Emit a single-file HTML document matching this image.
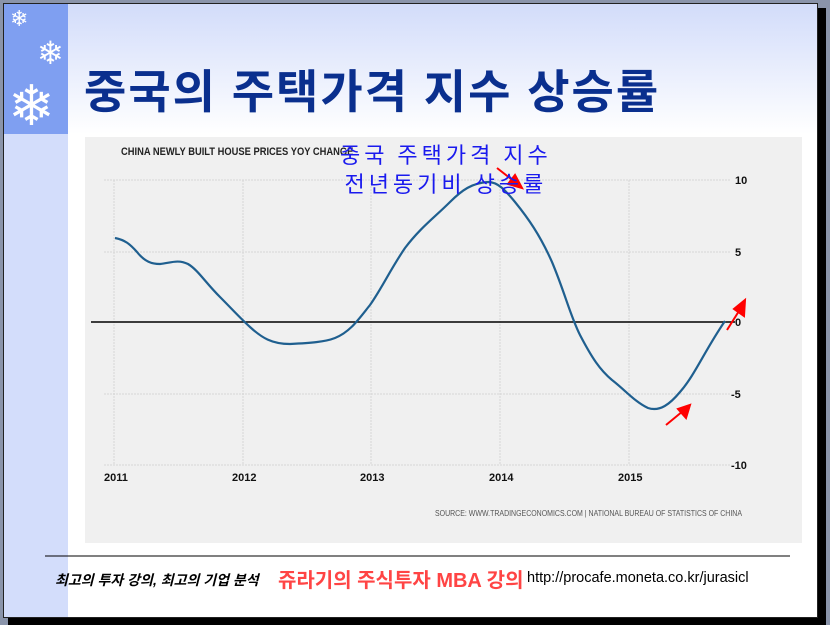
<!DOCTYPE html><html><head><meta charset="utf-8"><style>
body{margin:0;width:830px;height:625px;background:#fff;position:relative;overflow:hidden;font-family:"Liberation Sans","Noto Sans CJK KR",sans-serif}
.a{position:absolute}
</style></head><body>
<div class="a" style="left:0;top:0;width:830px;height:625px;background:#8a94aa"></div>
<div class="a" style="left:8px;top:8px;width:818px;height:617px;background:#000"></div>
<div class="a" style="left:3px;top:3px;width:815px;height:615px;background:#fff;border:1px solid #222;box-sizing:border-box"></div>
<div class="a" style="left:4px;top:4px;width:813px;height:130px;background:linear-gradient(#d2dcfa,#fff)"></div>
<div class="a" style="left:4px;top:134px;width:64px;height:483px;background:#d3ddfb"></div>
<div class="a" style="left:4px;top:4px;width:64px;height:130px;background:#7f9ff1"></div>
<div class="a" style="left:10px;top:6px;color:#fff;font-size:22px">❄</div>
<div class="a" style="left:37px;top:34px;color:#fff;font-size:32px">❄</div>
<div class="a" style="left:8px;top:76px;color:#fff;font-size:56px;line-height:60px">❄</div>
<div class="a" style="left:84px;top:56px;color:#0a2f8e;font-size:46px;font-weight:bold;letter-spacing:2px;white-space:nowrap">중국의 주택가격 지수 상승률</div>
<div class="a" style="left:85px;top:137px;width:717px;height:406px;background:#f0f0f0"></div>
<div class="a" style="left:121px;top:146px;font-size:11px;font-weight:bold;color:#222;transform:scaleX(0.85);transform-origin:left">CHINA NEWLY BUILT HOUSE PRICES YOY CHANGE</div>
<svg class="a" style="left:0;top:0" width="830" height="625">
<g stroke="#d6d6d6" stroke-width="1" stroke-dasharray="2,1">
<line x1="104" y1="180" x2="730" y2="180"/><line x1="104" y1="252" x2="730" y2="252"/><line x1="104" y1="394" x2="730" y2="394"/><line x1="104" y1="465" x2="730" y2="465"/>
<line x1="114" y1="180" x2="114" y2="465"/><line x1="243" y1="180" x2="243" y2="465"/><line x1="371" y1="180" x2="371" y2="465"/><line x1="500" y1="180" x2="500" y2="465"/><line x1="629" y1="180" x2="629" y2="465"/>
</g>
<line x1="91" y1="322" x2="735" y2="322" stroke="#000" stroke-width="1.5"/>
<path d="M115,238 C125,240 130,244 137,252 C145,262 152,264 160,264 C170,263 178,259 188,264 C198,270 205,282 220,297 C232,309 240,318 250,327 C262,338 272,344 290,344 C310,343 325,342 335,338 C350,332 358,320 370,305 C382,288 390,270 405,248 C420,228 435,217 450,202 C462,190 472,183 488,182 C498,182 505,190 515,202 C528,218 540,235 552,262 C565,293 570,315 580,335 C592,358 600,370 612,380 C625,390 635,402 648,408 C660,412 670,404 680,392 C695,375 705,350 725,321" fill="none" stroke="#1f5f8f" stroke-width="2.2"/>
<g font-family="Liberation Sans" font-size="11" font-weight="bold" fill="#111">
<text x="104" y="481">2011</text><text x="232" y="481">2012</text><text x="360" y="481">2013</text><text x="489" y="481">2014</text><text x="618" y="481">2015</text>
<text x="735" y="184">10</text><text x="735" y="256">5</text><text x="735" y="326">0</text><text x="731" y="398">-5</text><text x="731" y="469">-10</text>
</g>
<text x="435" y="516" font-size="8" fill="#555" font-family="Liberation Sans" textLength="307" lengthAdjust="spacingAndGlyphs">SOURCE: WWW.TRADINGECONOMICS.COM | NATIONAL BUREAU OF STATISTICS OF CHINA</text>
<g stroke="red" stroke-width="2" fill="red">
<line x1="497" y1="168" x2="515" y2="182"/><polygon points="522,188 508,184 515,175"/>
<line x1="666" y1="425" x2="683" y2="411"/><polygon points="690,405 686,418 678,409"/>
<line x1="727" y1="330" x2="739" y2="311"/><polygon points="745,300 744,316 734,309"/>
</g>
<line x1="45" y1="556" x2="790" y2="556" stroke="#000" stroke-width="1"/>
</svg>
<div class="a" style="left:340px;top:140px;color:#1a1aee;font-size:22px;line-height:29px;letter-spacing:4px;text-align:center;font-family:'Noto Sans CJK KR',sans-serif;white-space:nowrap">중국 주택가격 지수<br>전년동기비 상승률</div>
<div class="a" style="left:55px;top:570px;font-size:14px;font-style:italic;font-weight:bold;color:#000;white-space:nowrap">최고의 투자 강의, 최고의 기업 분석</div>
<div class="a" style="left:278px;top:564px;font-size:20px;font-weight:bold;color:#f44;white-space:nowrap">쥬라기의 주식투자 MBA 강의</div>
<div class="a" style="left:527px;top:570px;font-size:14.5px;color:#000;white-space:nowrap">http://procafe.moneta.co.kr/jurasicl</div>
</body></html>
